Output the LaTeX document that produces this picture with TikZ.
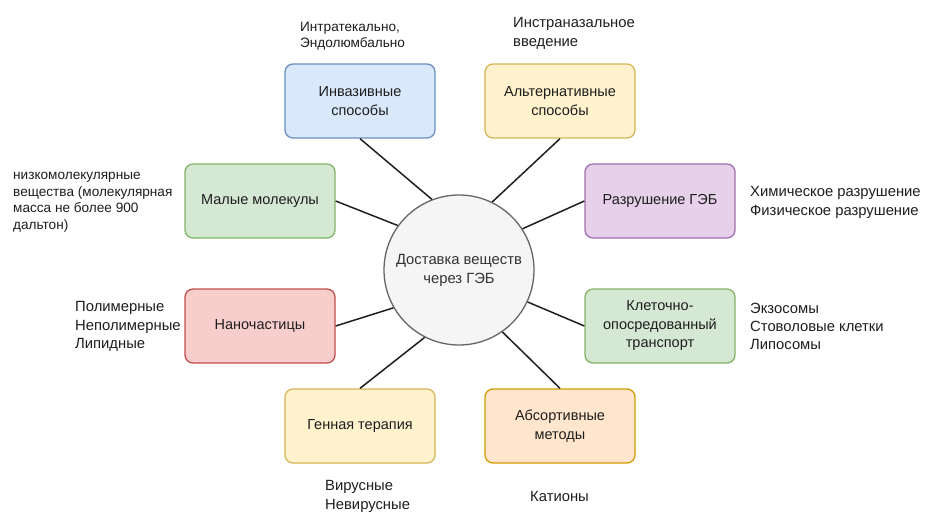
\documentclass[tikz,border=0pt]{standalone}
\usepackage{fontspec}
\setmainfont{Liberation Sans}
\definecolor{txt}{HTML}{1E1E1E}
\definecolor{blueF}{HTML}{DAE8FC}\definecolor{blueD}{HTML}{6C8EBF}
\definecolor{yelF}{HTML}{FFF2CC}\definecolor{yelD}{HTML}{D6B656}
\definecolor{grnF}{HTML}{D5E8D4}\definecolor{grnD}{HTML}{82B366}
\definecolor{purF}{HTML}{E6D0EA}\definecolor{purD}{HTML}{9E6FB0}
\definecolor{redF}{HTML}{F8CECC}\definecolor{redD}{HTML}{C0504D}
\definecolor{orgF}{HTML}{FFE6CC}\definecolor{orgD}{HTML}{D79B00}
\definecolor{circF}{HTML}{F5F5F5}\definecolor{circD}{HTML}{666666}
\begin{document}
\begin{tikzpicture}[x=1pt,y=-1pt,
  box/.style={draw, rounded corners=8pt, line width=1.3pt, minimum width=150pt, minimum height=74pt,
    align=center, text=txt, inner sep=2pt, font={\fontsize{14.5}{18.5}\selectfont}},
  lbl/.style={anchor=west, align=left, inner sep=0pt, text=txt, font={\fontsize{14.8}{18.3}\selectfont}},
  lblsm/.style={anchor=west, align=left, inner sep=0pt, text=txt, font={\fontsize{13.6}{16.5}\selectfont}},
  conn/.style={draw=black!88, line width=1.5pt}]
\useasboundingbox (0,0) rectangle (936,519);
\fill[white] (0,0) rectangle (936,519);

\node[circle, draw=circD, fill=circF, line width=1.3pt, minimum size=150pt, inner sep=0pt, align=center,
  text=black!80, font={\fontsize{14.8}{19}\selectfont}] (c) at (459,270) {Доставка веществ\\через ГЭБ};

\node[box, fill=blueF, draw=blueD] (inv) at (360,101) {Инвазивные\\способы};
\node[box, fill=yelF, draw=yelD] (alt) at (560,101) {Альтернативные\\способы};
\node[box, fill=grnF, draw=grnD] (small) at (260,201) {Малые молекулы};
\node[box, fill=purF, draw=purD] (dest) at (660,201) {Разрушение ГЭБ};
\node[box, fill=redF, draw=redD] (nano) at (260,326) {Наночастицы};
\node[box, fill=grnF, draw=grnD] (cell) at (660,326) {Клеточно-\\опосредованный\\транспорт};
\node[box, fill=yelF, draw=yelD] (gene) at (360,426) {Генная терапия};
\node[box, fill=orgF, draw=orgD] (abs) at (560,426) {Абсортивные\\методы};

\draw[conn] (inv.south) -- (c.111);
\draw[conn] (alt.south) -- (c.64);
\draw[conn] (small.east) -- (c.144);
\draw[conn] (dest.west) -- (c.33);
\draw[conn] (nano.east) -- (c.210);
\draw[conn] (cell.west) -- (c.335);
\draw[conn] (gene.north) -- (c.243);
\draw[conn] (abs.north) -- (c.305);

\node[lblsm] (l1) at (300,36) {Интратекально,\\Эндолюмбально};
\node[lbl] (l2) at (513,33.5) {Инстраназальное\\введение};
\node[lblsm] (l3) at (13,202) {низкомолекулярные\\вещества (молекулярная\\масса не более 900\\дальтон)};
\node[lbl] (l4) at (750,202.5) {Химическое разрушение\\Физическое разрушение};
\node[lbl] (l5) at (75,326.5) {Полимерные\\Неполимерные\\Липидные};
\node[lbl] (l6) at (750,326.5) {Экзосомы\\Стоволовые клетки\\Липосомы};
\node[lbl] (l7) at (325,496.5) {Вирусные\\Невирусные};
\node[lbl] (l8) at (530,496) {Катионы};
\end{tikzpicture}
\end{document}
